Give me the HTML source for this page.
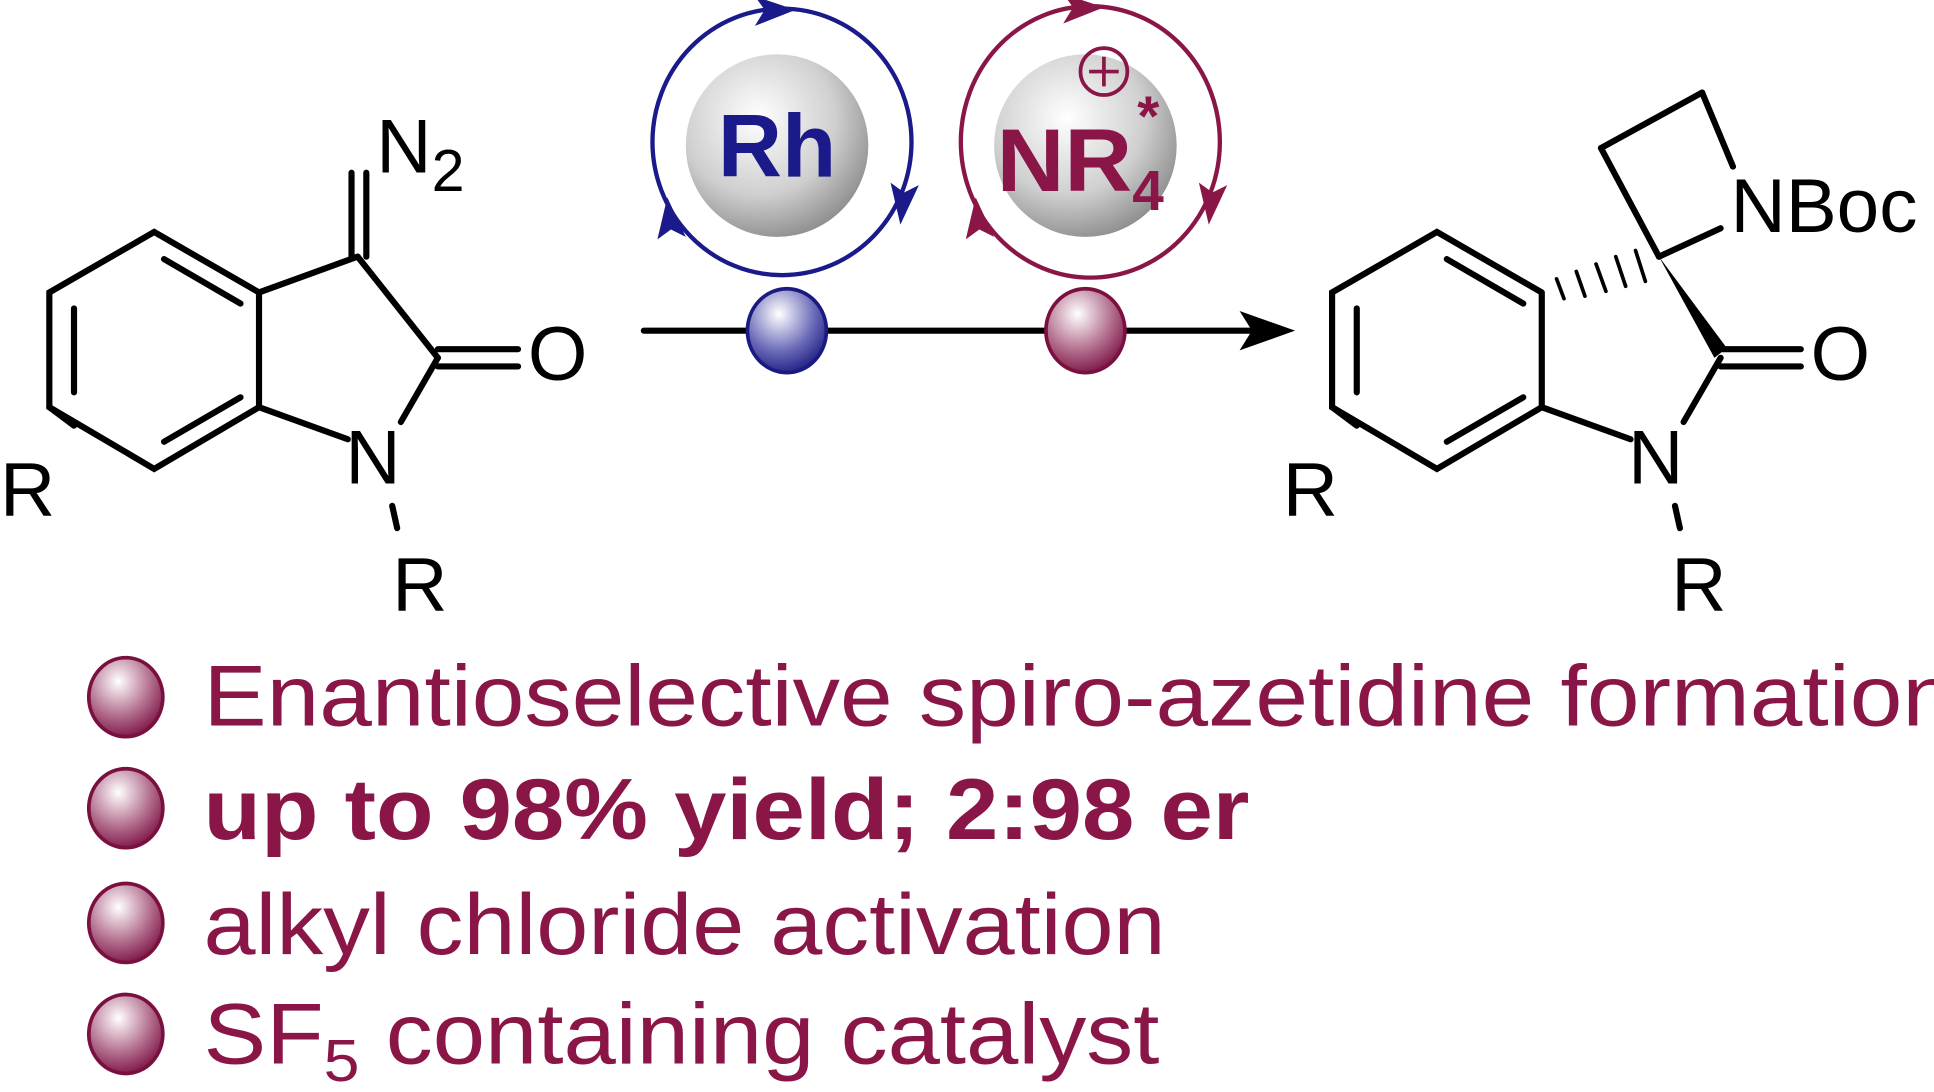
<!DOCTYPE html>
<html><head><meta charset="utf-8"><style>
html,body{margin:0;padding:0;background:#fff;}
svg{display:block}
</style></head><body>
<svg width="1934" height="1092" viewBox="0 0 1568 885" preserveAspectRatio="none" xmlns="http://www.w3.org/2000/svg">
<defs>
<radialGradient id="gs" cx="0.4" cy="0.35" r="0.7"><stop offset="0" stop-color="#fff"/><stop offset="0.6" stop-color="#cfcfcf"/><stop offset="1" stop-color="#8a8a8a"/></radialGradient>
<radialGradient id="gb" cx="0.4" cy="0.3" r="0.75"><stop offset="0" stop-color="#fff"/><stop offset="0.6" stop-color="#6a6ab8"/><stop offset="1" stop-color="#1a1a80"/></radialGradient>
<radialGradient id="gm" cx="0.4" cy="0.3" r="0.75"><stop offset="0" stop-color="#fff"/><stop offset="0.6" stop-color="#b06a8a"/><stop offset="1" stop-color="#7a1040"/></radialGradient>
</defs>
<g stroke="#000" stroke-width="5" fill="none" stroke-linecap="round">
<polyline points="210,237 125,188 40,237 40,330 125,380 210,330 210,237"/>
<line x1="60" y1="250" x2="60" y2="318"/>
<line x1="133" y1="210" x2="195" y2="246"/>
<line x1="133" y1="358" x2="195" y2="322"/>
<line x1="210" y1="237" x2="290" y2="208"/>
<line x1="290" y1="208" x2="355" y2="290"/>
<line x1="355" y1="290" x2="325" y2="342"/>
<line x1="210" y1="330" x2="282" y2="356"/>
<line x1="285" y1="208" x2="285" y2="140"/><line x1="297" y1="208" x2="297" y2="140"/>
<line x1="355" y1="283" x2="420" y2="283"/><line x1="355" y1="297" x2="420" y2="297"/>
<line x1="318" y1="410" x2="322" y2="428"/>
<line x1="40" y1="330" x2="60" y2="345"/>
<polyline points="1250,237 1165,188 1080,237 1080,330 1165,380 1250,330 1250,237"/>
<line x1="1100" y1="250" x2="1100" y2="318"/>
<line x1="1173" y1="210" x2="1235" y2="246"/>
<line x1="1173" y1="358" x2="1235" y2="322"/>
<line x1="1250" y1="330" x2="1322" y2="356"/>
<line x1="1395" y1="290" x2="1365" y2="342"/>
<line x1="1345" y1="208" x2="1298" y2="120"/>
<line x1="1298" y1="120" x2="1380" y2="75"/>
<line x1="1380" y1="75" x2="1405" y2="135"/>
<line x1="1345" y1="208" x2="1395" y2="185"/>
<line x1="1395" y1="283" x2="1460" y2="283"/><line x1="1395" y1="297" x2="1460" y2="297"/>
<line x1="1358" y1="410" x2="1362" y2="428"/>
<line x1="1080" y1="330" x2="1100" y2="345"/>
<g stroke-width="3"><line x1="1262" y1="226" x2="1268" y2="242"/><line x1="1278" y1="220" x2="1285" y2="240"/><line x1="1294" y1="214" x2="1302" y2="236"/><line x1="1310" y1="208" x2="1318" y2="232"/><line x1="1326" y1="203" x2="1334" y2="228"/></g>
<line x1="522" y1="268" x2="1020" y2="268"/>
</g>
<polygon points="1345,208 1390,290 1400,282" fill="#000"/>
<polygon points="1050,268 1005,252 1015,268 1005,284" fill="#000"/>
<g font-family="Liberation Sans, sans-serif" font-size="62" fill="#000">
<text x="305" y="140">N</text><text x="350" y="155" font-size="48">2</text>
<text x="428" y="308">O</text>
<text x="280" y="392">N</text>
<text x="318" y="495">R</text>
<text x="0" y="418">R</text>
<text x="1468" y="308">O</text>
<text x="1320" y="392">N</text>
<text x="1355" y="495">R</text>
<text x="1040" y="418">R</text>
<text x="1403" y="188">NBoc</text>
</g>
<circle cx="630" cy="118" r="74" fill="url(#gs)"/>
<ellipse cx="634" cy="115" rx="105" ry="108" fill="none" stroke="#1a1a8a" stroke-width="3.5"/>
<polygon points="645,8 612,-3 620,8 612,21" fill="#1a1a8a"/>
<polygon points="730,182 722,148 733,156 745,150" fill="#1a1a8a"/>
<polygon points="541,160 533,194 544,186 556,192" fill="#1a1a8a"/>
<text x="630" y="143" text-anchor="middle" font-family="Liberation Sans, sans-serif" font-weight="bold" font-size="72" fill="#1a1a8a" textLength="96" lengthAdjust="spacingAndGlyphs">Rh</text>
<circle cx="880" cy="118" r="74" fill="url(#gs)"/>
<ellipse cx="884" cy="115" rx="105" ry="110" fill="none" stroke="#8a1648" stroke-width="3.5"/>
<polygon points="895,6 862,-5 870,6 862,19" fill="#8a1648"/>
<polygon points="980,182 972,148 983,156 995,150" fill="#8a1648"/>
<polygon points="791,160 783,194 794,186 806,192" fill="#8a1648"/>
<circle cx="895" cy="58" r="19" fill="none" stroke="#8a1648" stroke-width="3"/>
<line x1="895" y1="46" x2="895" y2="70" stroke="#8a1648" stroke-width="3"/><line x1="883" y1="58" x2="907" y2="58" stroke="#8a1648" stroke-width="3"/>
<g font-family="Liberation Sans, sans-serif" font-weight="bold" fill="#8a1648">
<text x="808" y="155" font-size="72" textLength="110" lengthAdjust="spacingAndGlyphs">NR</text>
<text x="918" y="170" font-size="46">4</text>
<text x="922" y="110" font-size="46">*</text>
</g>
<ellipse cx="638" cy="268" rx="32" ry="34" fill="url(#gb)" stroke="#1a1a80" stroke-width="3"/>
<ellipse cx="880" cy="268" rx="32" ry="34" fill="url(#gm)" stroke="#7a1040" stroke-width="3"/>
<g stroke="#7a1040" stroke-width="3" fill="url(#gm)">
<ellipse cx="102" cy="565" rx="30" ry="32"/>
<ellipse cx="102" cy="655" rx="30" ry="32"/>
<ellipse cx="102" cy="748" rx="30" ry="32"/>
<ellipse cx="102" cy="838" rx="30" ry="32"/>
</g>
<g font-family="Liberation Sans, sans-serif" font-size="70" fill="#8a1648">
<text x="165" y="588" textLength="1420" lengthAdjust="spacingAndGlyphs">Enantioselective spiro-azetidine formation</text>
<text x="165" y="680" font-weight="bold" textLength="848" lengthAdjust="spacingAndGlyphs">up to 98% yield; 2:98 er</text>
<text x="165" y="773" textLength="780" lengthAdjust="spacingAndGlyphs">alkyl chloride activation</text>
<text x="165" y="862" textLength="775" lengthAdjust="spacingAndGlyphs">SF<tspan font-size="48" dy="14">5</tspan><tspan dy="-14"> containing catalyst</tspan></text>
</g>
</svg>
</body></html>
